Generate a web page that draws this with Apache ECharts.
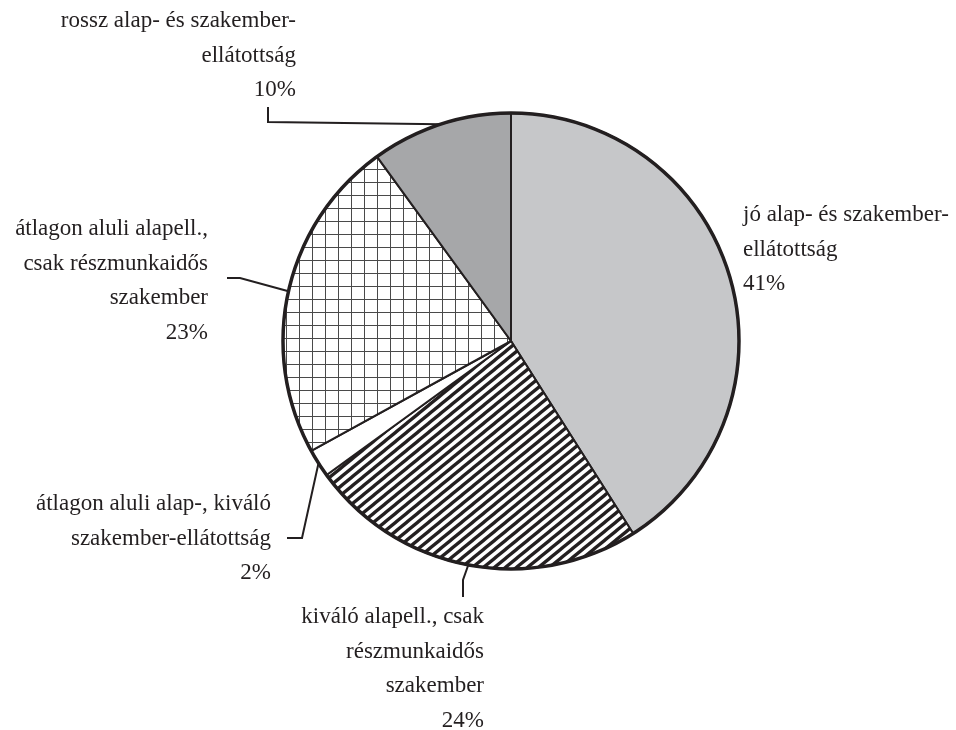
<!DOCTYPE html>
<html>
<head>
<meta charset="utf-8">
<script src="https://cdn.jsdelivr.net/npm/echarts@6/dist/echarts.min.js"></script>
<style>
html,body{margin:0;padding:0;background:#fff;}
#chart{width:956px;height:730px;}
</style>
</head>
<body>
<div id="chart"></div>
<script>
// ---- data ----
var categories = [
  'jó alap- és szakember-\nellátottság',
  'kiváló alapell., csak\nrészmunkaidős\nszakember',
  'átlagon aluli alap-, kiváló\nszakember-ellátottság',
  'átlagon aluli alapell.,\ncsak részmunkaidős\nszakember',
  'rossz alap- és szakember-\nellátottság'
];
var values = [41, 24, 2, 23, 10];

// ---- layout (label anchors and leader elbows, px) ----
var labelPos = [
  {x: 743, y: 198, align: 'left', line: null},
  {x: 484, y: 600, align: 'right', line: [[463, 580], [463, 597]]},
  {x: 271, y: 487, align: 'right', line: [[302, 538], [287, 538]]},
  {x: 208, y: 212, align: 'right', line: [[240, 278], [227, 278]]},
  {x: 296, y: 4, align: 'right', line: [[268, 122], [268, 107]]}
];

var ink = '#231f20';

function stripePattern() {
  var w = 11, h = 9;
  var c = document.createElement('canvas');
  c.width = w; c.height = h;
  var g = c.getContext('2d');
  g.fillStyle = '#fff'; g.fillRect(0, 0, w, h);
  g.strokeStyle = ink; g.lineWidth = 3.3;
  for (var k = -1; k <= 1; k++) {
    g.beginPath();
    g.moveTo(-w, h * (2 + k));
    g.lineTo(2 * w, h * (k - 1));
    g.stroke();
  }
  return c;
}
function gridPattern() {
  var s = 13;
  var c = document.createElement('canvas');
  c.width = s; c.height = s;
  var g = c.getContext('2d');
  g.fillStyle = '#fff'; g.fillRect(0, 0, s, s);
  g.fillStyle = '#4a4a4a';
  g.fillRect(0, 0, s, 1);
  g.fillRect(0, 0, 1, s);
  return c;
}

var fills = [
  '#c6c7c9',
  {image: stripePattern(), repeat: 'repeat'},
  '#ffffff',
  {image: gridPattern(), repeat: 'repeat'},
  '#a6a7a9'
];

var chart = echarts.init(document.getElementById('chart'), null, {renderer: 'canvas'});

var pieData = categories.map(function (name, i) {
  var d = {name: name, value: values[i], itemStyle: {color: fills[i]}};
  if (!labelPos[i].line) d.labelLine = {show: false};
  return d;
});

chart.setOption({
  animation: false,
  backgroundColor: '#fff',
  series: [
    {
      type: 'pie',
      center: [511, 341],
      radius: 228,
      startAngle: 90,
      clockwise: true,
      avoidLabelOverlap: false,
      emphasis: {disabled: true},
      itemStyle: {borderColor: ink, borderWidth: 2},
      label: {
        show: true,
        position: 'outside',
        formatter: function (p) { return p.name + '\n' + p.value + '%'; },
        fontFamily: 'Liberation Serif',
        fontSize: 23,
        lineHeight: 34.5,
        color: ink
      },
      labelLine: {
        show: true,
        lineStyle: {color: ink, width: 2}
      },
      labelLayout: function (params) {
        var lp = labelPos[params.dataIndex];
        var res = {x: lp.x, y: lp.y, align: lp.align, verticalAlign: 'top'};
        if (lp.line && params.labelLinePoints) {
          var p0 = params.labelLinePoints[0];
          res.labelLinePoints = [[p0[0], p0[1]], lp.line[0], lp.line[1]];
        }
        return res;
      },
      data: pieData
    },
    {
      type: 'pie',
      center: [511, 341],
      radius: 228,
      silent: true,
      z: 5,
      label: {show: false},
      labelLine: {show: false},
      emphasis: {disabled: true},
      itemStyle: {color: 'rgba(0,0,0,0)', borderColor: ink, borderWidth: 3.5},
      data: [{value: 1, name: 'outline'}]
    }
  ]
});
</script>
</body>
</html>
